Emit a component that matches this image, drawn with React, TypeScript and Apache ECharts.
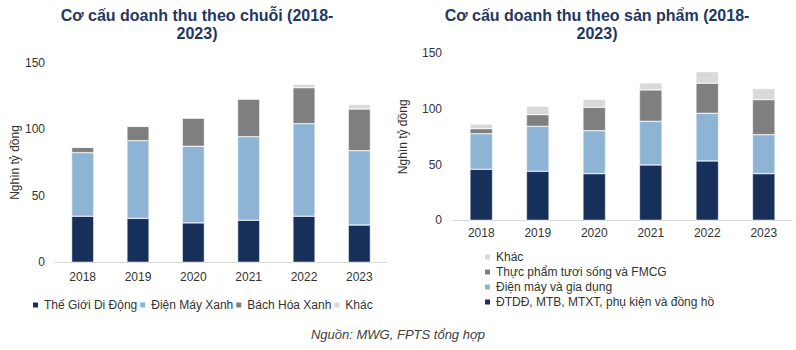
import React, { useEffect, useRef } from "react";
import * as echarts from "echarts";

const years = ["2018", "2019", "2020", "2021", "2022", "2023"];

// Left chart: by chain
const chainNames = ["Thế Giới Di Động", "Điện Máy Xanh", "Bách Hóa Xanh", "Khác"];
const tgdd = [34.6, 33.0, 29.6, 31.6, 34.6, 28.0];
const dmx = [47.8, 58.4, 57.6, 62.8, 69.6, 55.9];
const bhx = [4.0, 10.8, 21.2, 28.3, 27.0, 31.3];
const chainOther = [0, 0, 0, 0, 2.5, 3.5];

// Right chart: by product
const productNames = [
  "ĐTDĐ, MTB, MTXT, phụ kiện và đồng hồ",
  "Điện máy và gia dụng",
  "Thực phẩm tươi sống và FMCG",
  "Khác",
];
const phones = [45.8, 44.0, 41.9, 49.7, 53.3, 41.9];
const appliances = [32.0, 40.4, 38.6, 39.2, 42.8, 35.0];
const grocery = [4.5, 10.5, 21.0, 28.2, 27.0, 31.5];
const productOther = [4.2, 7.5, 7.2, 6.3, 10.4, 9.9];

const colors = ["#17305a", "#8eb4d5", "#7f7f7f", "#d9d9d9"];
const FONT = "Arial, 'Liberation Sans', sans-serif";

export default function App() {
  const ref = useRef<HTMLDivElement>(null);
  useEffect(() => {
    if (!ref.current) return;
    const chart = echarts.init(ref.current, undefined, { renderer: "svg" });
    const axisLabel = { color: "#333", fontSize: 12, fontFamily: FONT };
    const mkSeries = (name: string, data: number[], idx: number, stack: string, c: number) => ({
      name,
      type: "bar",
      stack,
      xAxisIndex: idx,
      yAxisIndex: idx,
      data,
      barWidth: "40%",
      itemStyle: { color: colors[c], borderColor: "#ffffff", borderWidth: 0.5 },
    });
    const titleStyle = { color: "#1f3864", fontSize: 16, fontWeight: "bold", lineHeight: 17.5, fontFamily: FONT };
    chart.setOption({
      animation: false,
      textStyle: { fontFamily: FONT },
      title: [
        {
          text: "Cơ cấu doanh thu theo chuỗi (2018-\n2023)",
          left: 197,
          top: 7,
          padding: 0,
          textAlign: "center",
          textStyle: titleStyle,
        },
        {
          text: "Cơ cấu doanh thu theo sản phẩm (2018-\n2023)",
          left: 597,
          top: 7,
          padding: 0,
          textAlign: "center",
          textStyle: titleStyle,
        },
      ],
      grid: [
        { left: 55, top: 62.7, width: 332, height: 199.6 },
        { left: 453, top: 53.3, width: 339, height: 167 },
      ],
      xAxis: [0, 1].map((i) => ({
        type: "category",
        gridIndex: i,
        data: years,
        axisTick: { show: false },
        axisLine: { lineStyle: { color: "#d9d9d9" } },
        axisLabel: { ...axisLabel, margin: i === 0 ? 9 : 7 },
      })),
      yAxis: [0, 1].map((i) => ({
        type: "value",
        gridIndex: i,
        min: 0,
        max: 150,
        interval: 50,
        name: "Nghìn tỷ đồng",
        nameLocation: "middle",
        nameRotate: 90,
        nameGap: i === 0 ? 34 : 44,
        nameTextStyle: { color: "#333", fontSize: 12, fontFamily: FONT },
        splitLine: { show: false },
        axisLine: { show: false },
        axisTick: { show: false },
        axisLabel: { ...axisLabel, margin: i === 0 ? 10 : 11 },
      })),
      legend: [
        {
          data: chainNames,
          left: 31,
          top: 299,
          padding: 0,
          orient: "horizontal",
          icon: "rect",
          itemWidth: 7,
          itemHeight: 7,
          itemGap: 1,
          textStyle: { color: "#333", fontSize: 12, fontFamily: FONT },
        },
        {
          data: [...productNames].reverse(),
          left: 483,
          top: 251,
          padding: 0,
          orient: "vertical",
          icon: "rect",
          itemWidth: 7,
          itemHeight: 7,
          itemGap: 3,
          textStyle: { color: "#333", fontSize: 12, fontFamily: FONT },
        },
      ],
      graphic: [
        {
          type: "text",
          left: "center",
          top: 328,
          style: {
            text: "Nguồn: MWG, FPTS tổng hợp",
            fontSize: 13,
            fontStyle: "italic",
            fill: "#404040",
            fontFamily: FONT,
          },
        },
      ],
      series: [
        mkSeries(chainNames[0], tgdd, 0, "L", 0),
        mkSeries(chainNames[1], dmx, 0, "L", 1),
        mkSeries(chainNames[2], bhx, 0, "L", 2),
        mkSeries(chainNames[3], chainOther, 0, "L", 3),
        mkSeries(productNames[0], phones, 1, "R", 0),
        mkSeries(productNames[1], appliances, 1, "R", 1),
        mkSeries(productNames[2], grocery, 1, "R", 2),
        mkSeries(productNames[3], productOther, 1, "R", 3),
      ],
    });
    return () => chart.dispose();
  }, []);
  return (
    <div
      ref={ref}
      style={{ position: "fixed", left: 0, top: 0, width: 796, height: 350, background: "#fff" }}
    />
  );
}
